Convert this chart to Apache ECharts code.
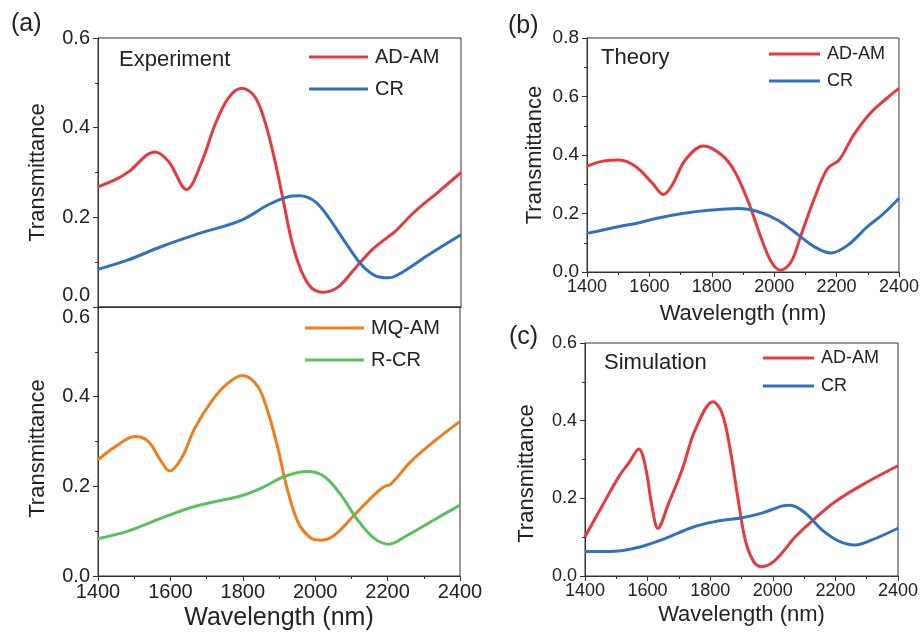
<!DOCTYPE html>
<html>
<head>
<meta charset="utf-8">
<script src="https://cdn.jsdelivr.net/npm/echarts@6/dist/echarts.min.js"></script>
<style>
html,body{margin:0;padding:0;background:#fff;}
#chart{width:922px;height:633px;}
</style>
</head>
<body>
<div id="chart"></div>
<script>
// ---- Data ----
// Panel (a) top: Experiment
const expAdamX = [1400,1455,1485,1557,1595,1644,1686,1722,1759,1796,1832,1860,1888,1911,1934,1961,1989,2021,2062,2108,2154,2200,2218,2273,2338,2400];
const expAdamY = [0.268,0.287,0.302,0.346,0.324,0.262,0.324,0.406,0.466,0.488,0.469,0.413,0.324,0.235,0.146,0.079,0.042,0.033,0.045,0.086,0.127,0.157,0.168,0.213,0.257,0.300];
const expCrX = [1400,1483,1575,1667,1796,1869,1924,1956,1998,2034,2080,2126,2163,2200,2237,2310,2400];
const expCrY = [0.084,0.105,0.135,0.161,0.194,0.228,0.246,0.248,0.235,0.201,0.146,0.094,0.070,0.065,0.077,0.116,0.161];
// Panel (a) bottom
const mqX = [1400,1447,1502,1539,1575,1598,1631,1667,1713,1759,1800,1842,1869,1897,1920,1952,1989,2016,2053,2108,2163,2190,2209,2264,2328,2400];
const mqY = [0.259,0.288,0.311,0.300,0.255,0.234,0.263,0.329,0.389,0.430,0.447,0.422,0.367,0.285,0.203,0.121,0.084,0.080,0.091,0.136,0.181,0.199,0.205,0.255,0.300,0.345];
const rcrX = [1400,1483,1575,1667,1796,1851,1915,1979,2025,2071,2117,2163,2204,2255,2328,2400];
const rcrY = [0.083,0.100,0.129,0.155,0.179,0.196,0.222,0.233,0.222,0.181,0.125,0.084,0.071,0.091,0.125,0.158];
// Panel (b): Theory
const thAdamX = [1400,1451,1504,1557,1610,1645,1673,1715,1773,1832,1874,1917,1959,1991,2020,2054,2086,2129,2171,2208,2255,2308,2361,2400];
const thAdamY = [0.362,0.379,0.383,0.360,0.303,0.265,0.297,0.383,0.431,0.400,0.343,0.240,0.114,0.034,0.006,0.034,0.126,0.252,0.354,0.383,0.469,0.543,0.594,0.628];
const thCrX = [1400,1495,1557,1621,1706,1790,1886,1949,2012,2065,2129,2182,2235,2298,2351,2400];
const thCrY = [0.132,0.154,0.166,0.183,0.200,0.211,0.217,0.206,0.177,0.137,0.086,0.065,0.091,0.154,0.200,0.252];
// Panel (c): Simulation
const simAdamX = [1400,1454,1508,1540,1572,1593,1614,1633,1667,1710,1752,1809,1838,1864,1886,1912,1939,1965,2008,2072,2136,2200,2295,2400];
const simAdamY = [0.101,0.179,0.256,0.291,0.327,0.282,0.179,0.123,0.187,0.273,0.376,0.449,0.419,0.325,0.213,0.093,0.037,0.024,0.041,0.101,0.149,0.192,0.239,0.284];
const simCrX = [1400,1497,1572,1657,1742,1816,1902,1965,2029,2056,2104,2157,2211,2264,2317,2400];
const simCrY = [0.063,0.064,0.074,0.097,0.125,0.140,0.150,0.162,0.180,0.182,0.162,0.119,0.090,0.080,0.093,0.123];
// Axis ranges / ticks
const xMin = 1400, xMax = 2400, xStep = 200;
const yRangeA = [0, 0.6, 0.2];
const yRangeB = [0, 0.8, 0.2];
const yRangeC = [0, 0.6, 0.2];

// ---- Styles ----
const FONT = "'Liberation Sans', Arial, Helvetica, sans-serif";
const RED = '#e8393e', BLUE = '#3271c1', ORANGE = '#ef7e1c', GREEN = '#5cbf62';
const AX = '#333';
const zip = (xs, ys) => xs.map((x, i) => [x, ys[i]]);

function xAx(gi, showLabels, fs, nameFs, nameGap, show) {
  return {
    type: 'value', gridIndex: gi, min: xMin, max: xMax, interval: xStep,
    axisLine: {show: true, onZero: false, lineStyle: {color: AX, width: 1}},
    axisTick: {show: show, length: 5, lineStyle: {color: AX}},
    minorTick: {show: show, splitNumber: 2, length: 3, lineStyle: {color: AX}},
    splitLine: {show: false},
    axisLabel: {show: showLabels, fontSize: fs, color: '#222', fontFamily: FONT, margin: 6, formatter: v => String(v)},
    name: showLabels ? 'Wavelength (nm)' : '',
    nameLocation: 'middle', nameGap: nameGap,
    nameTextStyle: {fontSize: nameFs, color: '#222', fontFamily: FONT}
  };
}
function yAx(gi, r, fs, nameGap, rich, namePad) {
  return {
    type: 'value', gridIndex: gi, min: r[0], max: r[1], interval: r[2],
    axisLine: {show: true, onZero: false, lineStyle: {color: AX, width: 1}},
    axisTick: {show: true, length: 5, lineStyle: {color: AX}},
    minorTick: {show: true, splitNumber: 2, length: 3, lineStyle: {color: AX}},
    splitLine: {show: false},
    axisLabel: {
      fontSize: fs, color: '#222', fontFamily: FONT, margin: 8,
      formatter: rich ? rich.fmt : (v => v.toFixed(1)),
      rich: rich ? rich.styles : undefined
    },
    name: 'Transmittance', nameLocation: 'middle', nameRotate: 90, nameGap: nameGap,
    nameTextStyle: {fontSize: 22, color: '#222', fontFamily: FONT, padding: namePad || 0}
  };
}
function line(name, xs, ys, color, gi) {
  return {
    name: name, type: 'line', xAxisIndex: gi, yAxisIndex: gi,
    data: zip(xs, ys), smooth: 0.35, showSymbol: false, symbol: 'none',
    lineStyle: {color: color, width: 3}, itemStyle: {color: color}, z: 3
  };
}
function legend(names, left, top, fs, w, gap) {
  return {
    data: names, orient: 'vertical', left: left, top: top,
    icon: 'rect', itemWidth: w, itemHeight: 3, itemGap: gap,
    selectedMode: false, padding: 0,
    textStyle: {fontSize: fs, color: '#222', fontFamily: FONT, lineHeight: fs, padding: [0,0,0,2]}
  };
}
function txt(s, x, y, fs) {
  return {type: 'text', left: x, top: y, style: {text: s, fontSize: fs, fill: '#222', fontFamily: FONT}};
}

const chart = echarts.init(document.getElementById('chart'), null, {renderer: 'canvas'});
const grid = (l, t, w, h) => ({left: l, top: t, width: w, height: h, show: true, borderColor: AX, borderWidth: 1, containLabel: false});

chart.setOption({
  animation: false,
  backgroundColor: '#fff',
  grid: [grid(98, 38, 363, 269), grid(98, 307, 362, 269), grid(587, 38, 315, 234), grid(585, 343, 313, 233)],
  xAxis: [
    xAx(0, false, 20, 24, 30, false),
    xAx(1, true, 20, 25, 30, true),
    xAx(2, true, 18, 22, 31, true),
    xAx(3, true, 18, 22, 28, true)
  ],
  yAxis: [
    yAx(0, yRangeA, 20, 49, {fmt: v => v === 0 ? '{up|0.0}' : v.toFixed(1), styles: {up: {fontSize: 20, fontFamily: FONT, color: '#222', padding: [0,0,24,0]}}}),
    yAx(1, yRangeA, 20, 49, {fmt: v => Math.abs(v - 0.6) < 1e-9 ? '{dn|0.6}' : v.toFixed(1), styles: {dn: {fontSize: 20, fontFamily: FONT, color: '#222', padding: [20,0,0,0]}}}, [0,14,0,0]),
    yAx(2, yRangeB, 19, 41, null),
    yAx(3, yRangeC, 18, 47, null, [0,28,0,0])
  ],
  legend: [
    legend(['AD-AM', 'CR'], 309, 47, 20, 59, 12),
    legend(['MQ-AM', 'R-CR'], 305, 318, 20, 59, 12),
    legend(['AD-AM', 'CR'], 769, 45, 18, 51, 9),
    legend(['AD-AM', 'CR'], 763, 349, 18, 51, 10)
  ],
  graphic: [
    txt('(a)', 11, 12, 25),
    txt('(b)', 508, 14, 25),
    txt('(c)', 509, 325, 25),
    txt('Experiment', 119, 49, 22),
    txt('Theory', 601, 47, 22),
    txt('Simulation', 604, 352, 22)
  ],
  series: [
    line('AD-AM', expAdamX, expAdamY, RED, 0),
    line('CR', expCrX, expCrY, BLUE, 0),
    line('MQ-AM', mqX, mqY, ORANGE, 1),
    line('R-CR', rcrX, rcrY, GREEN, 1),
    line('AD-AM', thAdamX, thAdamY, RED, 2),
    line('CR', thCrX, thCrY, BLUE, 2),
    line('AD-AM', simAdamX, simAdamY, RED, 3),
    line('CR', simCrX, simCrY, BLUE, 3)
  ]
});
</script>
</body>
</html>
